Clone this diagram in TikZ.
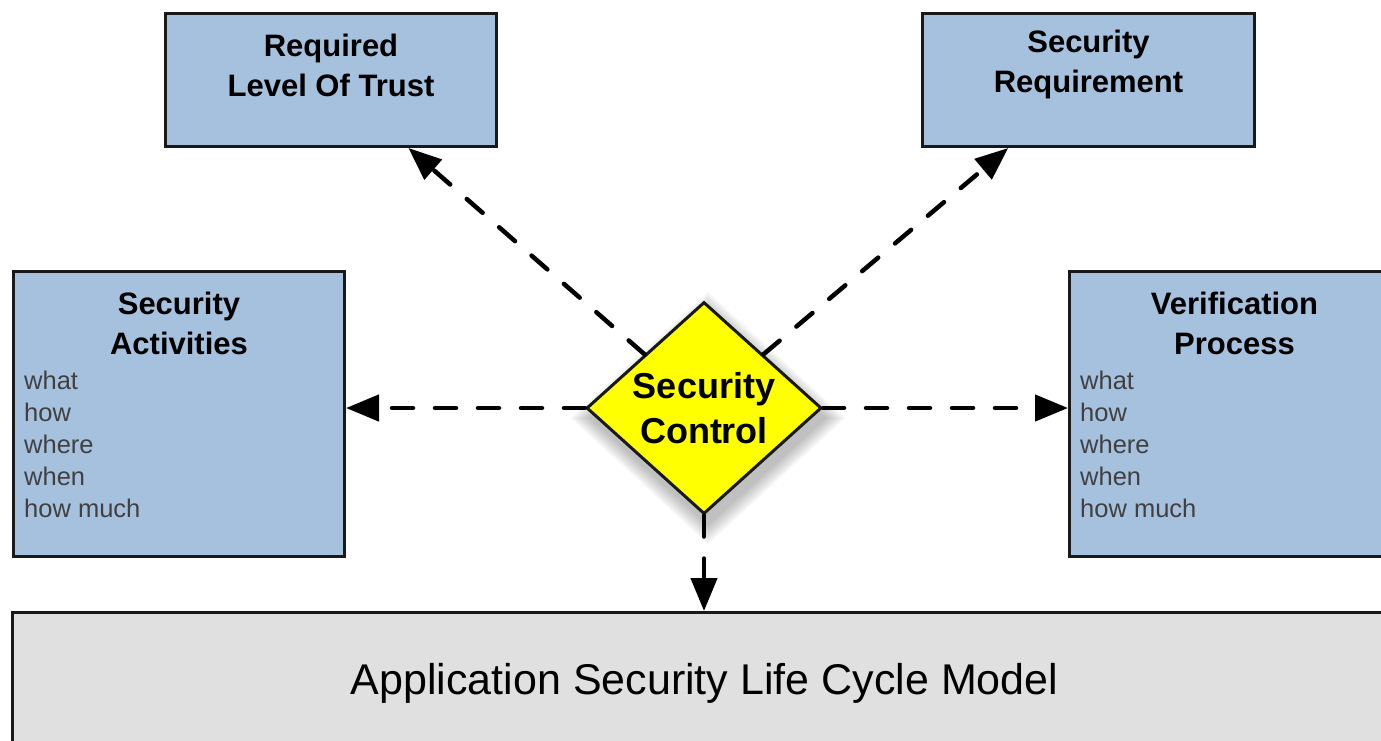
\documentclass[tikz,border=0pt]{standalone}
\usepackage{fontspec}
\setmainfont{Liberation Sans}
\usetikzlibrary{arrows.meta,positioning,calc,shapes.geometric}

\definecolor{boxblue}{RGB}{166,193,221}
\definecolor{modelgray}{RGB}{224,224,224}
\definecolor{ctrlyellow}{RGB}{255,255,0}

\begin{document}
\begin{tikzpicture}[
  x=1pt, y=-1pt,
  box/.style={draw=black!90, line width=3pt, fill=boxblue, anchor=north west, inner sep=0pt},
  title/.style={align=center, inner sep=0pt, anchor=north, font=\fontsize{31}{40}\selectfont\bfseries},
  items/.style={align=left, inner sep=0pt, anchor=north west, text=black!75, font=\fontsize{25.5}{32}\selectfont},
  control/.style={diamond, draw=black!90, line width=3pt, fill=ctrlyellow, aspect=1.1, inner sep=0pt,
    minimum width=235pt, minimum height=212pt, align=center, font=\fontsize{36}{45}\selectfont\bfseries},
  link/.style={line width=4.5pt, dash pattern=on 21pt off 22pt, line cap=round, -{Triangle[length=33pt, width=26pt]}}
]
\useasboundingbox (0,0) rectangle (1381,740);

% boxes
\node[box, minimum width=331pt, minimum height=133pt] (trust) at (164,12) {};
\node[title] (trusttxt) at ($(trust.north)+(0,22)$) {Required\\Level Of Trust};

\node[box, minimum width=332pt, minimum height=133pt] (req) at (921,12) {};
\node[title] (reqtxt) at ($(req.north)+(0,18)$) {Security\\Requirement};

\node[box, minimum width=331pt, minimum height=285pt] (act) at (12,270) {};
\node[title] (acttxt) at ($(act.north)+(0,22)$) {Security\\Activities};
\node[items] (actlist) at ($(act.north west)+(12,101)$) {what\\how\\where\\when\\how much};

\node[box, minimum width=330pt, minimum height=285pt] (ver) at (1068,270) {};
\node[title] (vertxt) at ($(ver.north)+(0,22)$) {Verification\\Process};
\node[items] (verlist) at ($(ver.north west)+(12,101)$) {what\\how\\where\\when\\how much};

\node[box, fill=modelgray, minimum width=1384pt, minimum height=132pt, text depth=0pt,
  font=\fontsize{43}{50}\selectfont] (model) at (11,611) {Application Security Life Cycle Model};

% soft shadow under the diamond
\foreach \b in {0,3,...,18} {
  \fill[black, opacity=0.04] (708,{310-\b}) -- ({827+\b},418) -- (708,{526+\b}) -- ({589-\b},418) -- cycle;
}
\node[control] (sc) at (704,408) {Security\\Control};

\draw[link] (sc.north west) -- (trust);
\draw[link] (sc.north east) -- (req);
\draw[link] (sc.west) -- (sc.west -| act.east);
\draw[link] (sc.east) -- (sc.east -| ver.west);
\draw[link] (sc.south) -- (sc.south |- model.north);

\end{tikzpicture}
\end{document}
